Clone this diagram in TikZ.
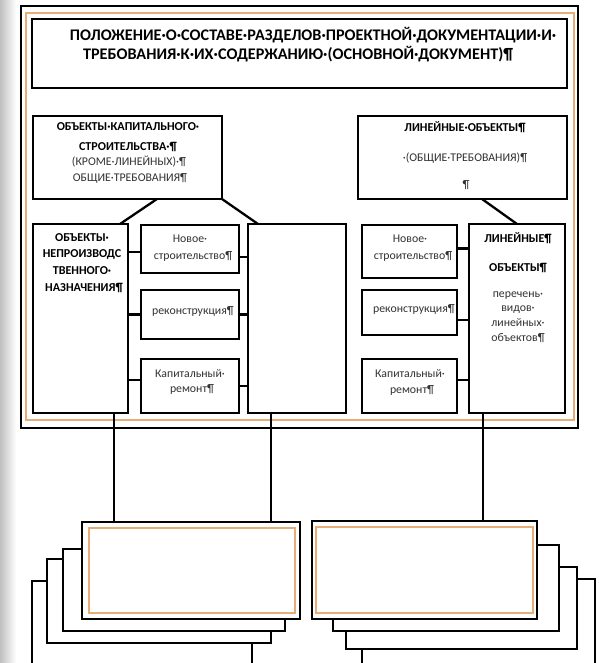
\documentclass[tikz,border=0pt]{standalone}
\usepackage{fontspec}
\setmainfont{Carlito}
\usetikzlibrary{calc}
\definecolor{frameorange}{RGB}{232,172,118}
\definecolor{txt}{RGB}{50,50,50}
\begin{document}
\begin{tikzpicture}[x=1pt,y=-1pt,
  box/.style={draw=black, line width=1.8pt, fill=white, inner sep=0pt, outer sep=0pt},
  conn/.style={draw=black, line width=2.3pt},
  bt/.style={font=\fontsize{12.1}{14}\selectfont\bfseries, text=black, inner sep=0pt, anchor=base},
  rt/.style={font=\fontsize{11.8}{14}\selectfont, text=txt, inner sep=0pt, anchor=base},
  tt/.style={font=\fontsize{16.2}{18}\selectfont\bfseries, text=black, inner sep=0pt, anchor=base},
  orangeline/.style={draw=frameorange, line width=2pt}
]
\useasboundingbox (0,0) rectangle (599,663);
\fill[white] (0,0) rectangle (599,663);
\shade[left color=gray!50, right color=white] (0,0) rectangle (16,663);

% main frame
\node[box, line width=2.2pt, minimum width=557pt, minimum height=422pt] (frame) at (299.5,217) {};
\draw[orangeline] ($(frame.north west)+(5,7)$) rectangle ($(frame.south east)+(-4.5,-8.5)$);

% title
\node[box, minimum width=535pt, minimum height=69pt] (title) at (299.5,53.5) {};
\node[tt] (t1) at (313,40.5) {ПОЛОЖЕНИЕ·О·СОСТАВЕ·РАЗДЕЛОВ·ПРОЕКТНОЙ·ДОКУМЕНТАЦИИ·И·};
\node[tt] (t2) at (298,59.5) {ТРЕБОВАНИЯ·К·ИХ·СОДЕРЖАНИЮ·(ОСНОВНОЙ·ДОКУМЕНТ)¶};

% second level
\node[box, minimum width=189pt, minimum height=83pt] (lbox) at (127.5,157.5) {};
\node[bt] (lb1) at (128,131) {ОБЪЕКТЫ·КАПИТАЛЬНОГО·};
\node[bt] (lb2) at (128,151) {СТРОИТЕЛЬСТВА·¶};
\node[rt] (lb3) at (129,166) {(КРОМЕ·ЛИНЕЙНЫХ)·¶};
\node[rt] (lb4) at (130,181) {ОБЩИЕ·ТРЕБОВАНИЯ¶};

\node[box, minimum width=209pt, minimum height=83pt] (rbox) at (462.5,157.5) {};
\node[bt] (rb1) at (465,132) {ЛИНЕЙНЫЕ·ОБЪЕКТЫ¶};
\node[rt] (rb2) at (465,161) {·(ОБЩИЕ·ТРЕБОВАНИЯ)¶};
\node[rt] (rb3) at (466,189) {¶};

% third level left
\node[box, minimum width=95pt, minimum height=189pt] (ltall) at (80.5,318.5) {};
\node[bt] (lt1) at (82,241) {ОБЪЕКТЫ·};
\node[bt] (lt2) at (82,257) {НЕПРОИЗВОДС};
\node[bt] (lt3) at (82,274) {ТВЕННОГО·};
\node[bt] (lt4) at (84,291) {НАЗНАЧЕНИЯ¶};

\node[box, minimum width=98pt, minimum height=48pt] (lm1) at (190,249) {};
\node[rt] (lm1a) at (190,242) {Новое·};
\node[rt] (lm1b) at (193,259) {строительство¶};
\node[box, minimum width=98pt, minimum height=49pt] (lm2) at (190,314.5) {};
\node[rt] (lm2a) at (193,314) {реконструкция¶};
\node[box, minimum width=98pt, minimum height=54pt] (lm3) at (190,386) {};
\node[rt] (lm3a) at (190,377) {Капитальный·};
\node[rt] (lm3b) at (192,392) {ремонт¶};

\node[box, minimum width=98pt, minimum height=189pt] (etall) at (297,318.5) {};

% third level right
\node[box, minimum width=95pt, minimum height=53pt] (rm1) at (409.5,251.5) {};
\node[rt] (rm1a) at (410,242) {Новое·};
\node[rt] (rm1b) at (413,259) {строительство¶};
\node[box, minimum width=95pt, minimum height=45pt] (rm2) at (409.5,312.5) {};
\node[rt] (rm2a) at (414,312) {реконструкция¶};
\node[box, minimum width=95pt, minimum height=54pt] (rm3) at (409.5,386) {};
\node[rt] (rm3a) at (410,377) {Капитальный·};
\node[rt] (rm3b) at (412,393) {ремонт¶};

\node[box, minimum width=96pt, minimum height=189pt] (rtall) at (517,318.5) {};
\node[bt] (rt1) at (518,242) {ЛИНЕЙНЫЕ¶};
\node[bt] (rt2) at (518,271) {ОБЪЕКТЫ¶};
\node[rt] (rt3) at (518,297) {перечень·};
\node[rt] (rt4) at (518,311) {видов·};
\node[rt] (rt5) at (518,326) {линейных·};
\node[rt] (rt6) at (518,341) {объектов¶};

% diagonal connectors
\draw[conn] ($(lbox.south west)+(124,0)$) -- ($(ltall.north west)+(87,0)$);
\draw[conn] (lbox.south east) -- ($(etall.north west)+(10,0)$);
\draw[conn] ($(rbox.south west)+(124,0)$) -- (rtall.north);

% stubs
\draw[conn] ($(lm1.west)+(0,3)$) -- ($(lm1.west -| ltall.east)+(0,3)$);
\draw[conn] (lm2.west) -- (lm2.west -| ltall.east);
\draw[conn] ($(lm3.west)+(0,-6)$) -- ($(lm3.west -| ltall.east)+(0,-6)$);
\draw[conn] ($(lm1.east)+(0,8)$) -- ($(lm1.east -| etall.west)+(0,8)$);
\draw[conn] (lm2.east) -- (lm2.east -| etall.west);
\draw[conn] (lm3.east) -- (lm3.east -| etall.west);
\draw[conn] ($(rm1.east)+(0,-3)$) -- ($(rm1.east -| rtall.west)+(0,-3)$);
\draw[conn] ($(rm2.east)+(0,7.5)$) -- ($(rm2.east -| rtall.west)+(0,7.5)$);
\draw[conn] ($(rm3.east)+(0,-6)$) -- ($(rm3.east -| rtall.west)+(0,-6)$);

% bottom stacks (back to front)
\node[box, minimum width=220pt, minimum height=83pt] (lC) at (142,622.5) {};
\node[box, minimum width=224pt, minimum height=84pt] (lB) at (159,601) {};
\node[box, minimum width=222pt, minimum height=82pt] (lA) at (174,590) {};
\node[box, minimum width=218pt, minimum height=97pt] (lf) at (191,570.5) {};
\draw[orangeline] ($(lf.north west)+(7,6)$) rectangle ($(lf.south east)+(-5,-6)$);

\node[box, minimum width=233pt, minimum height=85pt] (rC) at (478.5,621.5) {};
\node[box, minimum width=231pt, minimum height=82pt] (rB) at (461.5,608) {};
\node[box, minimum width=226pt, minimum height=86pt] (rA) at (446,588) {};
\node[box, minimum width=225pt, minimum height=98pt] (rf) at (424.5,570) {};
\draw[orangeline] ($(rf.north west)+(4,6)$) rectangle ($(rf.south east)+(-4,-6)$);

% vertical connectors to bottom
\coordinate (v1) at ($(ltall.south west)+(81,0)$);
\coordinate (v2) at ($(etall.south west)+(23,0)$);
\coordinate (v3) at ($(rtall.south west)+(14,0)$);
\draw[conn] (v1) -- (v1 |- lf.north);
\draw[conn] (v2) -- (v2 |- lf.north);
\draw[conn] (v3) -- (v3 |- rf.north);
\end{tikzpicture}
\end{document}
